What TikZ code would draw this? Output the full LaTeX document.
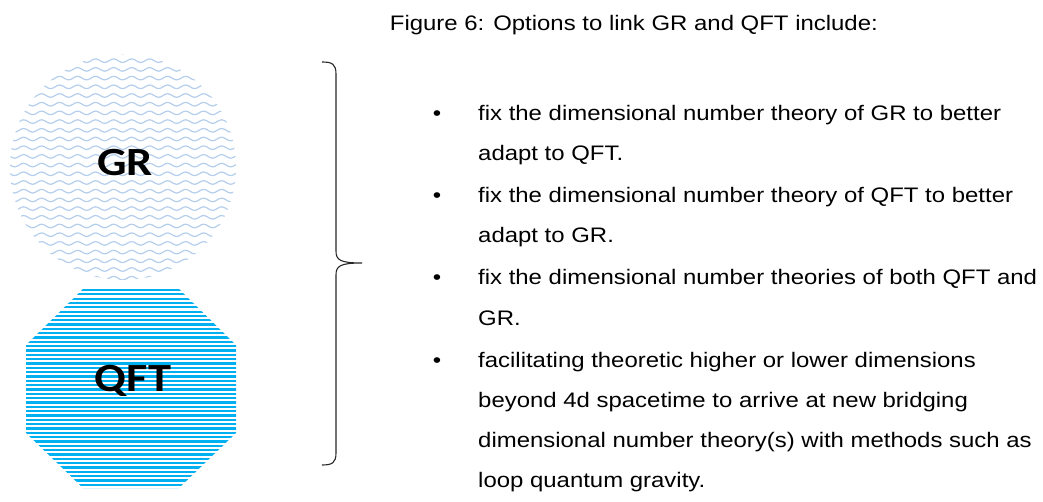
\documentclass[tikz,border=0pt]{standalone}
\usepackage{fontspec}
\setmainfont[FakeStretch=1.14]{Liberation Sans}
\newfontfamily\labelfont[FakeStretch=1.16]{Carlito}
\usetikzlibrary{decorations.pathmorphing}
\definecolor{wavecol}{RGB}{180,206,236}
\definecolor{stripecol}{RGB}{0,176,240}
\tikzset{
  bodytext/.style={anchor=base west, inner sep=0pt, font=\fontsize{21}{25}\selectfont},
  bulletmark/.style={anchor=base, inner sep=0pt, font=\fontsize{21}{25}\selectfont},
  biglabel/.style={inner sep=0pt, font=\labelfont\bfseries\fontsize{40}{44}\selectfont},
  wave/.style={draw=wavecol, line width=1.2pt, decorate, decoration={snake, segment length=18pt, amplitude=1.8pt}},
  stripe/.style={draw=stripecol, line width=2.3pt},
  bracepath/.style={draw=black!85, line width=1.1pt}
}
\begin{document}
\begin{tikzpicture}[x=1pt,y=-1pt]
\useasboundingbox (0,0) rectangle (1043,502);
% GR circle with wave pattern
\coordinate (grc) at (123,167);
\begin{scope}
  \clip (grc) circle (113);
  \foreach \r in {0,...,27} {
    \draw[wave] (0,{52+\r*8.7}) -- (250,{52+\r*8.7});
  }
\end{scope}
\node[biglabel] (gr) at (125,163) {GR};
% QFT octagon with horizontal stripes
\begin{scope}
  \clip (83,289) -- (179,289) -- (236,345) -- (236,433) -- (179,488) -- (83,488) -- (26,433) -- (26,345) -- cycle;
  \foreach \r in {0,...,46} {
    \draw[stripe] (20,{290+\r*4.33}) -- (240,{290+\r*4.33});
  }
\end{scope}
\node[biglabel] (qft) at (133,381) {QFT};
% brace
\coordinate (btop) at (322,62);
\coordinate (btip) at (362,263);
\coordinate (bbot) at (322,465);
\draw[bracepath] (btop) .. controls (332,62) and (336,64) .. (336,74)
  -- (336,251) .. controls (336,260) and (340,263) .. (btip)
  .. controls (340,263) and (336,266) .. (336,275)
  -- (336,453) .. controls (336,463) and (332,465) .. (bbot);
% title
\node[anchor=base east, inner sep=0pt, font=\fontsize{21}{25}\selectfont] (title) at (878,31)
  {Figure 6: Options to link GR and QFT include:};
% bullets
\foreach \y/\n in {121/b1,203/b2,285/b3,367/b4} {
  \node[bulletmark] (\n) at (437,\y) {•};
}
\node[bodytext] (l1) at (478,121) {fix the dimensional number theory of GR to better};
\node[bodytext] (l2) at (478,161) {adapt to QFT.};
\node[bodytext] (l3) at (478,203) {fix the dimensional number theory of QFT to better};
\node[bodytext] (l4) at (478,243) {adapt to GR.};
\node[bodytext] (l5) at (478,285) {fix the dimensional number theories of both QFT and};
\node[bodytext] (l6) at (478,325) {GR.};
\node[bodytext] (l7) at (478,367) {facilitating theoretic higher or lower dimensions};
\node[bodytext] (l8) at (478,407) {beyond 4d spacetime to arrive at new bridging};
\node[bodytext] (l9) at (478,447) {dimensional number theory(s) with methods such as};
\node[bodytext] (l10) at (478,487) {loop quantum gravity.};
\end{tikzpicture}
\end{document}
